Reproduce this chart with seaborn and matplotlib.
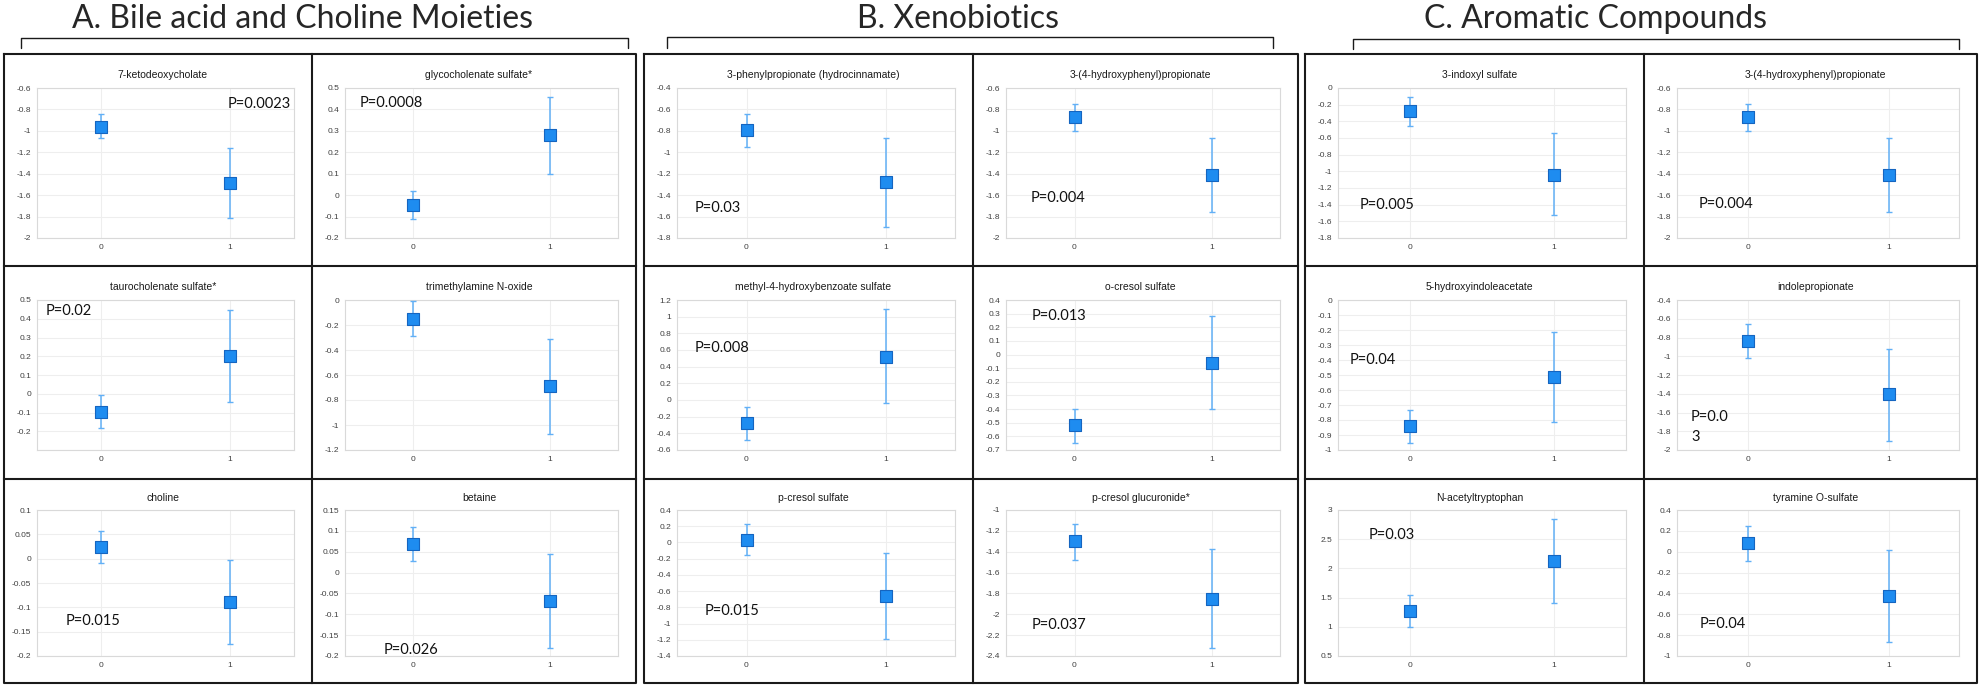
import matplotlib
matplotlib.use("Agg")
import matplotlib.pyplot as plt
import seaborn as sns
import numpy as np

# panel data (group 0 vs group 1, mean and error bar ends)
group_titles = ["A. Bile acid and Choline Moieties", "B. Xenobiotics", "C. Aromatic Compounds"]

names = [
    "7-ketodeoxycholate", "glycocholenate sulfate*",
    "taurocholenate sulfate*", "trimethylamine N-oxide",
    "choline", "betaine",
    "3-phenylpropionate (hydrocinnamate)", "3-(4-hydroxyphenyl)propionate",
    "methyl-4-hydroxybenzoate sulfate", "o-cresol sulfate",
    "p-cresol sulfate", "p-cresol glucuronide*",
    "3-indoxyl sulfate", "3-(4-hydroxyphenyl)propionate",
    "5-hydroxyindoleacetate", "indolepropionate",
    "N-acetyltryptophan", "tyramine O-sulfate",
]
mean0 = [-0.96, -0.045, -0.095, -0.15, 0.023, 0.068,
         -0.79, -0.87, -0.28, -0.52, 0.03, -1.30,
         -0.28, -0.87, -0.84, -0.84, 1.27, 0.08]
low0 = [-1.07, -0.11, -0.18, -0.285, -0.008, 0.027,
        -0.95, -1.00, -0.48, -0.645, -0.155, -1.48,
        -0.46, -1.00, -0.95, -1.02, 1.00, -0.085]
high0 = [-0.84, 0.02, -0.005, -0.01, 0.056, 0.11,
         -0.645, -0.745, -0.08, -0.40, 0.225, -1.13,
         -0.11, -0.745, -0.73, -0.66, 1.54, 0.245]
mean1 = [-1.49, 0.28, 0.20, -0.69, -0.09, -0.067,
         -1.28, -1.41, 0.52, -0.065, -0.66, -1.85,
         -1.04, -1.41, -0.51, -1.40, 2.13, -0.42]
low1 = [-1.81, 0.10, -0.045, -1.07, -0.175, -0.18,
        -1.70, -1.76, -0.04, -0.40, -1.19, -2.32,
        -1.53, -1.76, -0.81, -1.90, 1.40, -0.87]
high1 = [-1.16, 0.46, 0.445, -0.31, -0.003, 0.045,
         -0.87, -1.07, 1.09, 0.28, -0.13, -1.37,
         -0.54, -1.07, -0.21, -0.92, 2.85, 0.02]

y_min = [-2, -0.2, -0.3, -1.2, -0.2, -0.2,
         -1.8, -2, -0.6, -0.7, -1.4, -2.4,
         -1.8, -2, -1, -2, 0.5, -1]
y_max = [-0.6, 0.5, 0.5, 0, 0.1, 0.15,
         -0.4, -0.6, 1.2, 0.4, 0.4, -1,
         0, -0.6, 0, -0.4, 3, 0.4]
y_step = [0.2, 0.1, 0.1, 0.2, 0.05, 0.05,
          0.2, 0.2, 0.2, 0.1, 0.2, 0.2,
          0.2, 0.2, 0.1, 0.2, 0.5, 0.2]
hide_bottom_label = [False, False, True, False, False, False] + [False] * 12

p_text = ["P=0.0023", "P=0.0008", "P=0.02", "", "P=0.015", "P=0.026",
          "P=0.03", "P=0.004", "P=0.008", "P=0.013", "P=0.015", "P=0.037",
          "P=0.005", "P=0.004", "P=0.04", "P=0.0\n3", "P=0.03", "P=0.04"]
p_x = [0.98, -0.39, -0.43, 0, -0.28, -0.22,
       -0.37, -0.32, -0.37, -0.31, -0.30, -0.31,
       -0.35, -0.35, -0.42, -0.40, -0.29, -0.34]
p_y = [-0.75, 0.43, 0.44, 0, -0.128, -0.185,
       -1.52, -1.63, 0.62, 0.283, -0.84, -2.105,
       -1.41, -1.68, -0.40, -1.755, 2.57, -0.69]

sns.set_style("white")
plt.rcParams['font.family'] = ['Liberation Sans', 'DejaVu Sans']

W, H = 1980, 690
fig = plt.figure(figsize=(W / 100, H / 100), dpi=100)

# overlay in pixel coordinates for boxes, brackets and headers
ov = fig.add_axes([0, 0, 1, 1])
ov.set_xlim(0, W)
ov.set_ylim(H, 0)
ov.axis('off')

cols = [[4, 312, 636], [644, 973, 1298], [1305, 1644, 1977]]
rows = [54, 266, 479, 683]
brackets = [(21, 628, 38, 48), (667, 1273, 37, 48), (1353, 1959, 39, 49)]
title_x = [303, 958, 1596]

line_kw = dict(color='#1a1a1a', lw=1.5, solid_capstyle='projecting')
for g in range(3):
    L, M, R = cols[g]
    ov.plot([L, R, R, L, L], [rows[0], rows[0], rows[3], rows[3], rows[0]], **line_kw)
    ov.plot([M, M], [rows[0], rows[3]], **line_kw)
    for yy in rows[1:3]:
        ov.plot([L, R], [yy, yy], **line_kw)
    x0, x1, yt, yb = brackets[g]
    ov.plot([x0, x0, x1, x1], [yb, yt, yt, yb], color='#1a1a1a', lw=1)
    ov.text(title_x[g], 19, group_titles[g], fontsize=23, family=['Lato', 'DejaVu Sans'],
            ha='center', va='center')

def fmt(v):
    v = round(v, 3)
    if abs(v) < 1e-9:
        return "0"
    return f"{v:g}"

for i in range(18):
    g = i // 6
    r = (i % 6) // 2
    c = i % 2
    L = cols[g][c]
    R = cols[g][c + 1]
    T = rows[r]
    top = T + (31 if r == 2 else 34)
    bot = T + (177 if r == 2 else 184)
    left = L + 33
    right = R - 18
    ax = fig.add_axes([left / W, 1 - bot / H, (right - left) / W, (bot - top) / H])

    ax.errorbar([0, 1], [mean0[i], mean1[i]],
                yerr=[[mean0[i] - low0[i], mean1[i] - low1[i]],
                      [high0[i] - mean0[i], high1[i] - mean1[i]]],
                fmt='none', ecolor='#62b0f6', elinewidth=1.1, capsize=2.2, capthick=1, zorder=3)
    sns.scatterplot(x=[0, 1], y=[mean0[i], mean1[i]], marker='s', s=75,
                    color='#1e8cf0', edgecolor='#1565c0', linewidth=0.8, ax=ax, zorder=4)

    ax.set_xlim(-0.5, 1.5)
    ax.set_ylim(y_min[i], y_max[i])
    ticks = np.arange(y_min[i], y_max[i] + y_step[i] / 2, y_step[i])
    labels = [fmt(t) for t in ticks]
    if hide_bottom_label[i]:
        labels[0] = ""
    ax.set_yticks(ticks)
    ax.set_yticklabels(labels)
    ax.set_xticks([0, 1])
    ax.set_xticklabels(["0", "1"])
    ax.tick_params(length=0, labelsize=6, labelcolor='#404040', pad=4)
    ax.grid(True, color='#eeeeee', lw=0.8)
    ax.set_axisbelow(True)
    for s in ax.spines.values():
        s.set_color('#d9d9d9')
        s.set_linewidth(0.8)
    ax.set_xlabel("")
    ax.set_ylabel("")

    ov.text((L + R) / 2 + 5, T + (19 if r == 2 else 21), names[i], fontsize=7.5,
            ha='center', va='center', color='#1a1a1a')
    if p_text[i]:
        ax.text(p_x[i], p_y[i], p_text[i], fontsize=10.5, family=['Lato', 'DejaVu Sans'],
                ha='left', va='center', color='#111111', linespacing=1.5, zorder=5)

fig.savefig("out.png", dpi=100)
